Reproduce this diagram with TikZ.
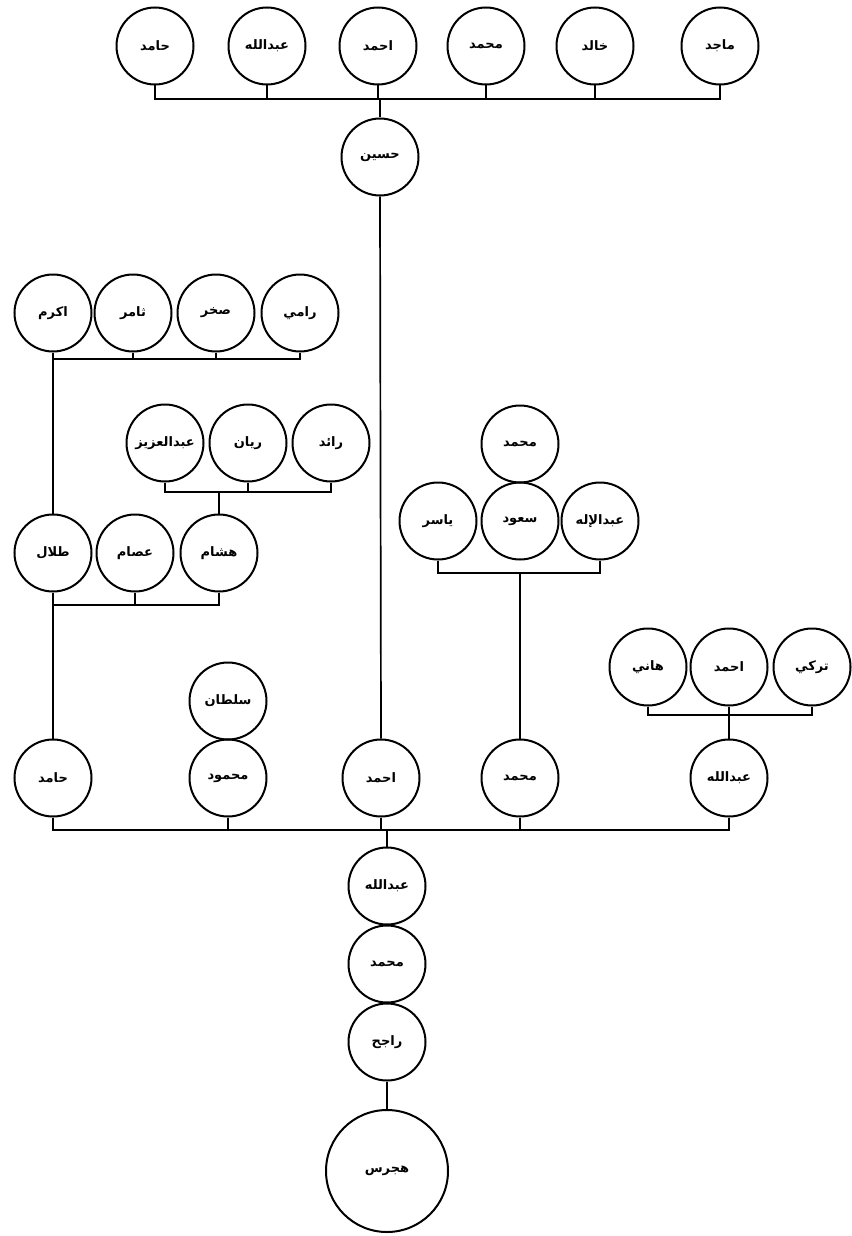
\documentclass[tikz,border=0pt]{standalone}
\usepackage{fontspec}
\newfontfamily\arabicfont[Script=Arabic]{DejaVu Sans}
\TeXXeTstate=1
\newcommand\ar[1]{\beginR#1\endR}

\tikzset{
 person/.style={circle,draw,line width=2pt,minimum size=77pt,inner sep=0pt,
  font=\arabicfont\bfseries\fontsize{13}{15}\selectfont},
 famline/.style={line width=1.7pt},
 mainbar/.style={line width=2.6pt},
}

\def\toprow{46}
\def\botrow{778}

\begin{document}
\begin{tikzpicture}[x=1pt,y=-1pt]
 \useasboundingbox (0,0) rectangle (851,1236);
 % Top row
 \foreach \x/\name [count=\i] in {155/حامد,267/عبدالله,378/احمد,486/محمد,595/خالد,720/ماجد}
  \node[person] (top\i) at (\x,\toprow) {\ar{\name}};
 \node[person] (husain) at (380,157) {\ar{حسين}};
 \coordinate (topbar) at (380,99);
 \foreach \i in {1,...,6}
  \draw[mainbar] (top\i.south) |- (topbar);
 \draw[famline] (topbar) -- (husain.north);
 % Akram and brothers
 \foreach \x/\name [count=\i] in {53/اكرم,133/ثامر,216/صخر,300/رامي}
  \node[person] (akr\i) at (\x,313) {\ar{\name}};
 \coordinate (akrbar) at (53,359);
 \foreach \i in {2,3,4}
  \draw[famline] (akr\i.south) |- (akrbar);
 % Hisham's sons
 \foreach \x/\name [count=\i] in {165/عبدالعزيز,248/ريان,331/رائد}
  \node[person] (hsh\i) at (\x,443) {\ar{\name}};
 \coordinate (hshbar) at (219,492);
 \foreach \i in {1,2,3}
  \draw[famline] (hsh\i.south) |- (hshbar);
 % Talal and brothers
 \foreach \x/\name [count=\i] in {53/طلال,135/عصام,219/هشام}
  \node[person] (tal\i) at (\x,553) {\ar{\name}};
 \draw[famline] (akr1.south) -- (tal1.north);
 \draw[famline] (hshbar) -- (tal3.north);
 \coordinate (talbar) at (53,605);
 \foreach \i in {2,3}
  \draw[famline] (tal\i.south) |- (talbar);
 % Saud and brothers
 \node[person] (muh) at (520,444) {\ar{محمد}};
 \foreach \x/\name [count=\i] in {438/ياسر,520/سعود,600/عبدالإله}
  \node[person] (sau\i) at (\x,521) {\ar{\name}};
 \coordinate (saubar) at (520,573);
 \foreach \i in {1,3}
  \draw[famline] (sau\i.south) |- (saubar);
 % Hani and brothers
 \foreach \x/\name [count=\i] in {648/هاني,729/احمد,812/تركي}
  \node[person] (han\i) at (\x,667) {\ar{\name}};
 \coordinate (hanbar) at (729,715);
 \foreach \i in {1,2,3}
  \draw[famline] (han\i.south) |- (hanbar);
 % Bottom row
 \node[person] (sultan) at (228,701) {\ar{سلطان}};
 \foreach \x/\name [count=\i] in {53/حامد,228/محمود,381/احمد,520/محمد,729/عبدالله}
  \node[person] (bot\i) at (\x,\botrow) {\ar{\name}};
 \draw[famline] (tal1.south) -- (bot1.north);
 \draw[famline] (husain.south) -- (bot3.north);
 \draw[famline] (saubar) -- (bot4.north);
 \draw[famline] (hanbar) -- (bot5.north);
 \coordinate (botbar) at (387,830);
 \foreach \i in {1,...,5}
  \draw[mainbar] (bot\i.south) |- (botbar);
 % Line down
 \foreach \y/\name [count=\i] in {886/عبدالله,964/محمد,1042/راجح}
  \node[person] (lin\i) at (387,\y) {\ar{\name}};
 \node[person,minimum size=122pt] (hajras) at (387,1171) {\ar{هجرس}};
 \draw[famline] (botbar) -- (lin1.north);
 \draw[famline] (lin3.south) -- (hajras.north);
\end{tikzpicture}
\end{document}
